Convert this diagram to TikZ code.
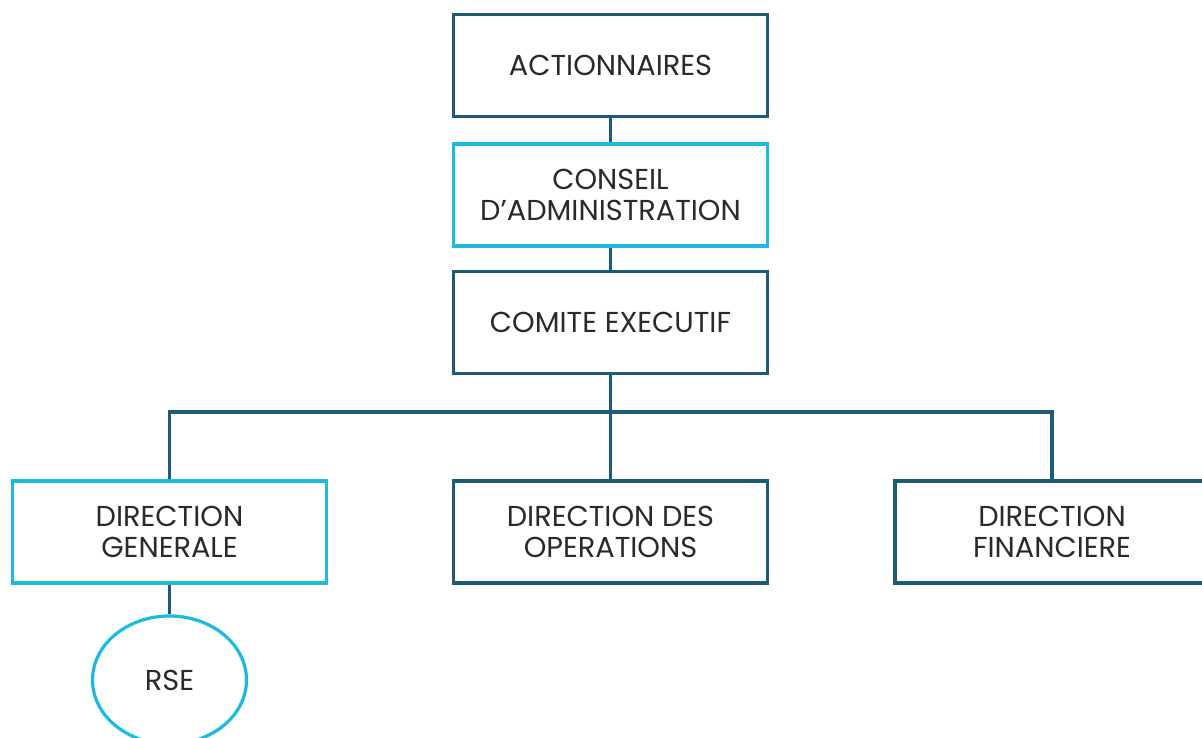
\documentclass[tikz,border=0pt]{standalone}
\usepackage{fontspec}
\setmainfont{Poppins}
\usetikzlibrary{shapes.geometric}
\definecolor{darkblue}{HTML}{1D5B78}
\definecolor{lightblue}{HTML}{1BBBDD}
\definecolor{txt}{HTML}{2A2A2A}
\begin{document}
\begin{tikzpicture}[x=1pt,y=-1pt,
  box/.style={draw=darkblue, line width=3.2pt, minimum width=314pt, minimum height=102pt,
    align=center, text=txt, font=\fontsize{28.8}{31}\selectfont, inner sep=0pt},
  hbox/.style={box, draw=lightblue},
  oval/.style={ellipse, draw=lightblue, line width=3.2pt, minimum width=154pt, minimum height=128pt,
    text=txt, font=\fontsize{28.8}{31}\selectfont, inner sep=0pt},
  conn/.style={draw=darkblue, line width=3.2pt}]
\useasboundingbox (0,0) rectangle (1202,738);
\clip (0,0) rectangle (1202,738);
\fill[white] (0,0) rectangle (1202,738);
\node[box]  (act) at (610.5,65.5) {ACTIONNAIRES};
\node[hbox] (ca)  at (610.5,195) {CONSEIL\\D’ADMINISTRATION};
\node[box]  (ce)  at (610.5,322.5) {COMITE EXECUTIF};
\node[hbox] (dg)  at (169.5,532) {DIRECTION\\GENERALE};
\node[box]  (do)  at (610.5,532) {DIRECTION DES\\OPERATIONS};
\node[box]  (df)  at (1052,532) {DIRECTION\\FINANCIERE};
\node[oval] (rse) at (169.5,680) {RSE};
\coordinate (bus) at (610.5,412);
\draw[conn] (act.south) -- (ca.north);
\draw[conn] (ca.south) -- (ce.north);
\draw[conn] (ce.south) -- (bus);
\draw[conn] (bus) -- (do.north);
\draw[conn] (dg.north) |- (bus) -| (df.north);
\draw[conn] (dg.south) -- (rse.north);
\end{tikzpicture}
\end{document}
